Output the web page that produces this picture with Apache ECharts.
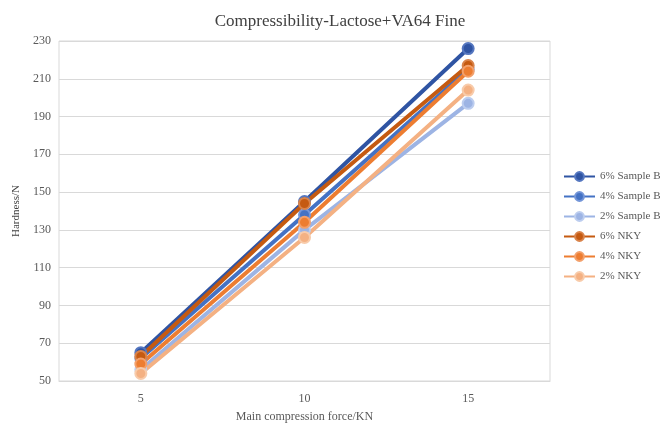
<!DOCTYPE html>
<html><head><meta charset="utf-8">
<script src="https://cdn.jsdelivr.net/npm/echarts@6/dist/echarts.min.js"></script>
<style>html,body{margin:0;padding:0;background:#fff}#c{width:667px;height:430px}</style>
</head><body><div id="c"></div>
<script>
const categories = ['5', '10', '15'];
const seriesNames = ['6% Sample B', '4% Sample B', '2% Sample B', '6% NKY', '4% NKY', '2% NKY'];
const s6B = [65, 145, 226];
const s4B = [62, 138, 215];
const s2B = [56, 130, 197];
const s6N = [63, 144, 217];
const s4N = [59, 134, 214];
const s2N = [54, 126, 204];
const yTicks = [50, 230, 20];
const colors = ['#2F54A3', '#4472C4', '#9DB4E4', '#C55A11', '#ED7D31', '#F4B183'];
const borders = ['#5577C0', '#7395D8', '#BCCDEF', '#D9834A', '#F3A06B', '#F8CBAA'];
const allData = [s6B, s4B, s2B, s6N, s4N, s2N];
const font = '"Liberation Serif", "Times New Roman", serif';
const chart = echarts.init(document.getElementById('c'));
chart.setOption({
  animation: false,
  color: colors,
  title: { text: 'Compressibility-Lactose+VA64 Fine', left: 335, top: 8, textAlign: 'center',
    textStyle: { fontFamily: font, fontSize: 17, fontWeight: 'normal', color: '#404040' } },
  grid: { left: 59, right: 117, top: 41, bottom: 49, show: true, borderColor: '#d9d9d9', borderWidth: 1 },
  legend: { orient: 'vertical', left: 558, top: 166, itemGap: 9, itemWidth: 31, itemHeight: 11,
    textStyle: { fontFamily: font, fontSize: 11, color: '#595959' }, data: seriesNames },
  xAxis: { type: 'category', data: categories, boundaryGap: true,
    name: 'Main compression force/KN', nameLocation: 'middle', nameGap: 30,
    nameTextStyle: { fontFamily: font, fontSize: 12, color: '#595959' },
    axisLine: { lineStyle: { color: '#d9d9d9' } }, axisTick: { show: false },
    axisLabel: { fontFamily: font, fontSize: 12, color: '#595959', margin: 12 } },
  yAxis: { type: 'value', min: yTicks[0], max: yTicks[1], interval: yTicks[2],
    name: 'Hardness/N', nameLocation: 'middle', nameGap: 34,
    nameTextStyle: { fontFamily: font, fontSize: 11, color: '#404040' },
    axisLine: { show: false }, axisTick: { show: false },
    splitLine: { lineStyle: { color: '#d9d9d9' } },
    axisLabel: { fontFamily: font, fontSize: 12, color: '#595959', margin: 8 } },
  series: seriesNames.map((n, i) => ({
    name: n, type: 'line', data: allData[i], symbol: 'circle', symbolSize: 11,
    lineStyle: { width: 4, color: colors[i] },
    itemStyle: { color: colors[i], borderColor: borders[i], borderWidth: 2 }
  }))
});
</script></body></html>
